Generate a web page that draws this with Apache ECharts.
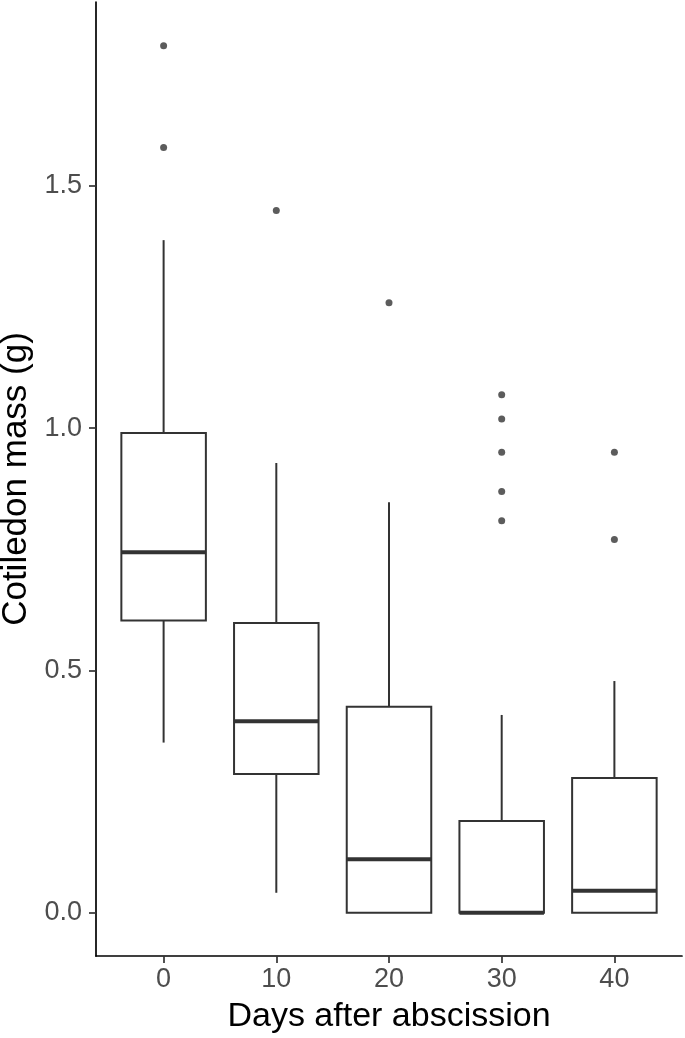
<!DOCTYPE html>
<html lang="en">
<head>
    <meta charset="UTF-8">
    <title>Cotiledon mass</title>
    <script src="https://cdn.jsdelivr.net/npm/echarts@6/dist/echarts.min.js"></script>
</head>
<body style="margin:0;background:#fff">
    <div id="box" style="width: 685px;height: 1038px"></div>
<script>
    // days after abscission (x categories)
    var days = ['0', '10', '20', '30', '40'];
    // box stats (g)
    var whiskerLow = [0.351, 0.041, 0, 0, 0];
    var q1 = [0.603, 0.286, 0, 0, 0];
    var median = [0.744, 0.395, 0.110, 0, 0.045];
    var q3 = [0.990, 0.598, 0.425, 0.189, 0.278];
    var whiskerHigh = [1.388, 0.928, 0.847, 0.408, 0.478];
    // outliers: [category index, mass]
    var outliers = [
        [0, 1.789], [0, 1.579],
        [1, 1.449],
        [2, 1.259],
        [3, 1.069], [3, 1.019], [3, 0.950], [3, 0.869], [3, 0.809],
        [4, 0.950], [4, 0.770]
    ];
    var yTicks = [0, 0.5, 1.0, 1.5];

    var boxData = days.map(function (d, i) {
        return [i, whiskerLow[i], q1[i], median[i], q3[i], whiskerHigh[i]];
    });
    var dayIdx = days.map(function (d, i) { return i; });

    var ink = '#333333';

    function renderBox(params, api) {
        var x = api.value(0);
        var half = api.size([0.75, 0])[0] / 2;
        var pLow = api.coord([x, api.value(1)]);
        var pQ1 = api.coord([x, api.value(2)]);
        var pMed = api.coord([x, api.value(3)]);
        var pQ3 = api.coord([x, api.value(4)]);
        var pHigh = api.coord([x, api.value(5)]);
        var thin = {stroke: ink, lineWidth: 2, fill: null};
        return {
            type: 'group',
            children: [
                {type: 'line', shape: {x1: pQ3[0], y1: pQ3[1], x2: pHigh[0], y2: pHigh[1]}, style: thin},
                {type: 'line', shape: {x1: pQ1[0], y1: pQ1[1], x2: pLow[0], y2: pLow[1]}, style: thin},
                {type: 'rect', shape: {x: pQ3[0] - half, y: pQ3[1], width: half * 2, height: pQ1[1] - pQ3[1]},
                    style: {stroke: ink, lineWidth: 2, fill: '#ffffff'}},
                {type: 'line', shape: {x1: pMed[0] - half, y1: pMed[1], x2: pMed[0] + half, y2: pMed[1]},
                    style: {stroke: ink, lineWidth: 4}}
            ]
        };
    }

    var chart = echarts.init(document.getElementById('box'));
    var option = {
        backgroundColor: '#ffffff',
        animation: false,
        textStyle: {fontFamily: 'Liberation Sans, Arial, sans-serif'},
        grid: {left: 96, right: 3, top: 2, bottom: 82, outerBoundsMode: 'none', containLabel: false},
        xAxis: {
            type: 'value',
            min: -0.6,
            max: 4.6,
            name: 'Days after abscission',
            nameLocation: 'middle',
            nameGap: 44,
            nameTextStyle: {color: '#000', fontSize: 34},
            axisLine: {show: true, onZero: false, lineStyle: {color: '#000', width: 1.7}},
            axisTick: {show: true, length: 7, customValues: dayIdx, lineStyle: {color: ink, width: 1.7}},
            axisLabel: {
                customValues: dayIdx,
                color: '#4d4d4d',
                fontSize: 27,
                margin: 10,
                formatter: function (v) { return days[Math.round(v)]; }
            },
            splitLine: {show: false}
        },
        yAxis: {
            type: 'value',
            min: -0.0895,
            max: 1.8795,
            name: 'Cotiledon mass (g)',
            nameLocation: 'middle',
            nameGap: 60,
            nameTextStyle: {color: '#000', fontSize: 35},
            axisLine: {show: true, onZero: false, lineStyle: {color: '#000', width: 1.7}},
            axisTick: {show: true, length: 7, customValues: yTicks, lineStyle: {color: ink, width: 1.7}},
            axisLabel: {
                customValues: yTicks,
                color: '#4d4d4d',
                fontSize: 27,
                margin: 14,
                formatter: function (v) { return v.toFixed(1); }
            },
            splitLine: {show: false}
        },
        series: [
            {
                type: 'custom',
                renderItem: renderBox,
                encode: {x: 0, y: [1, 2, 3, 4, 5]},
                data: boxData
            },
            {
                type: 'scatter',
                symbolSize: 7,
                itemStyle: {color: ink},
                data: outliers
            }
        ]
    };
    chart.setOption(option);
</script>
</body>
</html>
